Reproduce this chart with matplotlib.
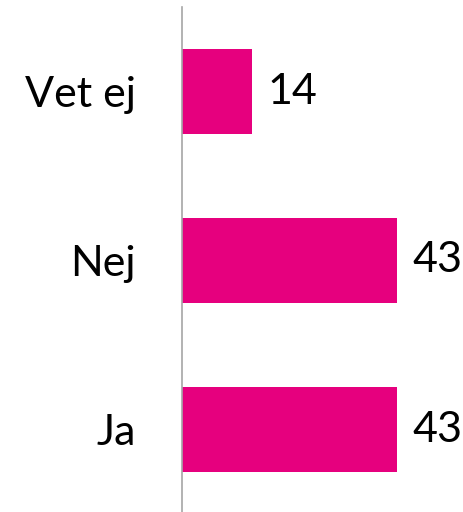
import matplotlib.pyplot as plt

# Datos
categorias = ['Ja', 'Nej', 'Vet ej']
valores = [43, 43, 14]

plt.rcParams['font.family'] = ['Lato', 'DejaVu Sans']

fig = plt.figure(figsize=(4.64, 5.12), dpi=100)
ax = fig.add_axes([182 / 464, -2 / 512, 1 - 182 / 464, 507 / 512])

barras = ax.barh(categorias, valores, height=0.5, color='#E6007E')
ax.set_ylim(-0.5, 2.5)
ax.set_xlim(0, 56.5)

# Etiquetas de valor
for barra, v in zip(barras, valores):
    ax.text(v + 3.1, barra.get_y() + barra.get_height() / 2, str(v),
            va='center', ha='left', fontsize=31, color='black')

for lado in ['top', 'right', 'bottom']:
    ax.spines[lado].set_visible(False)
ax.spines['left'].set_color('#a6a6a6')
ax.spines['left'].set_linewidth(1.2)

ax.set_xticks([])
ax.tick_params(axis='y', length=0, pad=33, labelsize=31)

fig.savefig('out.png', dpi=100)
